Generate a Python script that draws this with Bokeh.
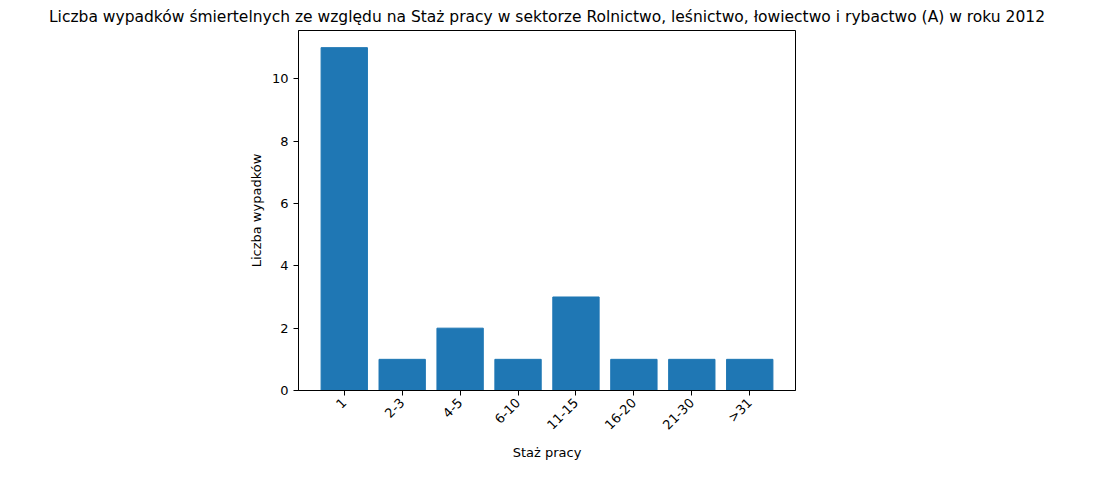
from bokeh.plotting import figure
from bokeh.models import Range1d, FixedTicker
from bokeh.embed import file_html
from bokeh.resources import INLINE
import math

categories = ["1", "2-3", "4-5", "6-10", "11-15", "16-20", "21-30", ">31"]
values = [11, 1, 2, 1, 3, 1, 1, 1]
xs = list(range(len(categories)))

p = figure(width=1078, height=462, output_backend="svg", toolbar_location=None,
           x_range=Range1d(-0.79, 7.79), y_range=Range1d(0, 11.55),
           min_border_left=298, min_border_right=283, min_border_top=26, min_border_bottom=61)
p.title.text = "Liczba wypadków śmiertelnych ze względu na Staż pracy w sektorze Rolnictwo, leśnictwo, łowiectwo i rybactwo (A) w roku 2012"
p.title.align = "center"
p.title.text_font_size = "15.5px"
p.title.text_font_style = "normal"
p.title.text_font = "DejaVu Sans"
p.title.text_color = "black"
p.vbar(x=xs, top=values, width=0.8, color="#1f77b4")
p.xaxis.ticker = FixedTicker(ticks=xs)
p.xaxis.major_label_overrides = {i: c for i, c in enumerate(categories)}
p.xaxis.major_label_orientation = math.pi / 4
p.yaxis.ticker = FixedTicker(ticks=[0, 2, 4, 6, 8, 10])
p.xaxis.axis_label = "Staż pracy"
p.yaxis.axis_label = "Liczba wypadków"
p.xaxis.axis_label_standoff = 4
for ax in (p.xaxis, p.yaxis):
    ax.axis_label_text_font_style = "normal"
    ax.axis_label_text_font_size = "13px"
    ax.axis_label_text_font = "DejaVu Sans"
    ax.axis_label_text_color = "black"
    ax.major_label_text_font_size = "13px"
    ax.major_label_text_font = "DejaVu Sans"
    ax.major_label_text_color = "black"
    ax.minor_tick_line_color = None
    ax.major_tick_out = 5
    ax.major_tick_in = 0
    ax.axis_line_color = "black"
p.grid.visible = False
p.outline_line_color = "black"
p.outline_line_alpha = 1

open("out.html", "w").write(file_html(p, INLINE))
